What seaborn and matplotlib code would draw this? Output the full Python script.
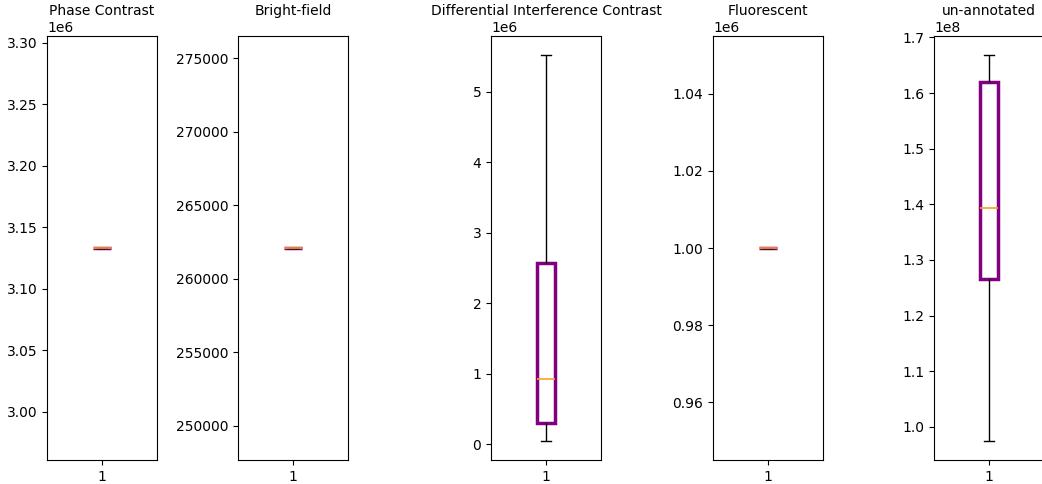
import matplotlib
matplotlib.use("Agg")
import matplotlib.pyplot as plt
import seaborn as sns
import numpy as np

titles = ["Phase Contrast", "Bright-field", "Differential Interference Contrast",
          "Fluorescent", "un-annotated"]
phase_contrast = [3.133e6]
bright_field = [262100]
dic = [0.05e6, 0.30e6, 0.93e6, 2.57e6, 5.52e6]
fluorescent = [1.0e6]
un_annotated = [0.975e8, 1.265e8, 1.393e8, 1.62e8, 1.668e8]
series = [phase_contrast, bright_field, dic, fluorescent, un_annotated]
tick_label = "1"

W, H = 1042, 484
fig = plt.figure(figsize=(W / 100, H / 100), dpi=100)
lefts = [47, 238, 491, 713, 934]
axw, top, bottom = 110, 36, 460

for left, title, vals in zip(lefts, titles, series):
    ax = fig.add_axes([left / W, 1 - bottom / H, axw / W, (bottom - top) / H])
    sns.boxplot(y=vals, ax=ax, width=0.17, whis=1.5,
                boxprops=dict(facecolor="none", edgecolor="purple", linewidth=2.5),
                medianprops=dict(color="#f5a623", linewidth=1.2),
                whiskerprops=dict(color="black", linewidth=1),
                capprops=dict(color="black", linewidth=1),
                capwidths=0.085)
    ax.set_xticks([0])
    ax.set_xticklabels([tick_label])
    ax.set_xlim(-0.5, 0.5)
    ax.set_ylabel("")
    ax.set_title(title, fontsize=10, y=1 + 21 / (bottom - top), pad=0)
    ax.tick_params(labelsize=10)

fig.savefig("out.png", dpi=100)
